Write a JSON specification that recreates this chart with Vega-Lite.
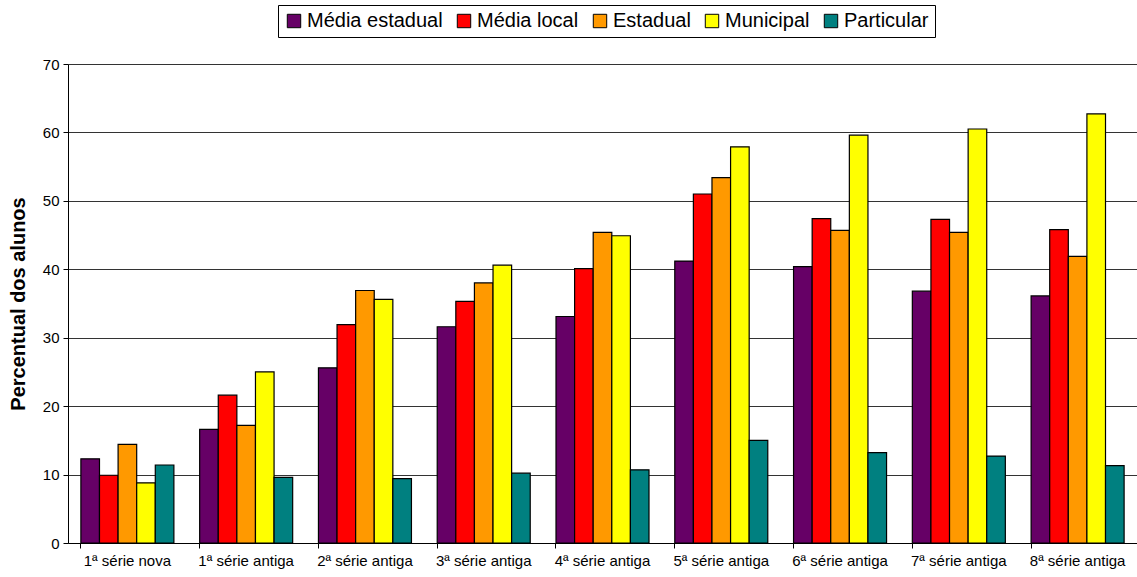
{
  "$schema": "https://vega.github.io/schema/vega-lite/v6.json",
  "width": 1069,
  "height": 479,
  "autosize": {"type": "none"},
  "padding": {"left": 68, "top": 64, "right": 0, "bottom": 34},
  "background": "white",
  "config": {
    "font": "Liberation Sans",
    "view": {"stroke": null}
  },
  "data": {
    "values": [
      {"serie": "1ª série nova", "grupo": "Média estadual", "valor": 12.3},
      {"serie": "1ª série nova", "grupo": "Média local", "valor": 9.9},
      {"serie": "1ª série nova", "grupo": "Estadual", "valor": 14.4},
      {"serie": "1ª série nova", "grupo": "Municipal", "valor": 8.8},
      {"serie": "1ª série nova", "grupo": "Particular", "valor": 11.4},
      {"serie": "1ª série antiga", "grupo": "Média estadual", "valor": 16.6},
      {"serie": "1ª série antiga", "grupo": "Média local", "valor": 21.6},
      {"serie": "1ª série antiga", "grupo": "Estadual", "valor": 17.2},
      {"serie": "1ª série antiga", "grupo": "Municipal", "valor": 25.0},
      {"serie": "1ª série antiga", "grupo": "Particular", "valor": 9.6},
      {"serie": "2ª série antiga", "grupo": "Média estadual", "valor": 25.6},
      {"serie": "2ª série antiga", "grupo": "Média local", "valor": 31.9},
      {"serie": "2ª série antiga", "grupo": "Estadual", "valor": 36.9},
      {"serie": "2ª série antiga", "grupo": "Municipal", "valor": 35.6},
      {"serie": "2ª série antiga", "grupo": "Particular", "valor": 9.4},
      {"serie": "3ª série antiga", "grupo": "Média estadual", "valor": 31.6},
      {"serie": "3ª série antiga", "grupo": "Média local", "valor": 35.3},
      {"serie": "3ª série antiga", "grupo": "Estadual", "valor": 38.0},
      {"serie": "3ª série antiga", "grupo": "Municipal", "valor": 40.6},
      {"serie": "3ª série antiga", "grupo": "Particular", "valor": 10.2},
      {"serie": "4ª série antiga", "grupo": "Média estadual", "valor": 33.1},
      {"serie": "4ª série antiga", "grupo": "Média local", "valor": 40.1},
      {"serie": "4ª série antiga", "grupo": "Estadual", "valor": 45.4},
      {"serie": "4ª série antiga", "grupo": "Municipal", "valor": 44.9},
      {"serie": "4ª série antiga", "grupo": "Particular", "valor": 10.7},
      {"serie": "5ª série antiga", "grupo": "Média estadual", "valor": 41.2},
      {"serie": "5ª série antiga", "grupo": "Média local", "valor": 51.0},
      {"serie": "5ª série antiga", "grupo": "Estadual", "valor": 53.4},
      {"serie": "5ª série antiga", "grupo": "Municipal", "valor": 57.9},
      {"serie": "5ª série antiga", "grupo": "Particular", "valor": 15.0},
      {"serie": "6ª série antiga", "grupo": "Média estadual", "valor": 40.4},
      {"serie": "6ª série antiga", "grupo": "Média local", "valor": 47.4},
      {"serie": "6ª série antiga", "grupo": "Estadual", "valor": 45.7},
      {"serie": "6ª série antiga", "grupo": "Municipal", "valor": 59.6},
      {"serie": "6ª série antiga", "grupo": "Particular", "valor": 13.2},
      {"serie": "7ª série antiga", "grupo": "Média estadual", "valor": 36.8},
      {"serie": "7ª série antiga", "grupo": "Média local", "valor": 47.3},
      {"serie": "7ª série antiga", "grupo": "Estadual", "valor": 45.4},
      {"serie": "7ª série antiga", "grupo": "Municipal", "valor": 60.5},
      {"serie": "7ª série antiga", "grupo": "Particular", "valor": 12.7},
      {"serie": "8ª série antiga", "grupo": "Média estadual", "valor": 36.1},
      {"serie": "8ª série antiga", "grupo": "Média local", "valor": 45.8},
      {"serie": "8ª série antiga", "grupo": "Estadual", "valor": 41.9},
      {"serie": "8ª série antiga", "grupo": "Municipal", "valor": 62.7},
      {"serie": "8ª série antiga", "grupo": "Particular", "valor": 11.3}
    ]
  },
  "mark": {"type": "bar", "stroke": "black", "strokeWidth": 1.2},
  "encoding": {
    "x": {
      "field": "serie",
      "type": "nominal",
      "sort": null,
      "scale": {"paddingInner": 0.217, "paddingOuter": 0.1085},
      "axis": {
        "title": null,
        "labelAngle": 0,
        "labelFontSize": 15,
        "labelColor": "black",
        "labelPadding": 5,
        "bandPosition": 0,
        "tickColor": "black",
        "tickSize": 5,
        "domainColor": "black",
        "grid": false
      }
    },
    "xOffset": {
      "field": "grupo",
      "type": "nominal",
      "sort": ["Média estadual", "Média local", "Estadual", "Municipal", "Particular"],
      "scale": {"paddingInner": 0, "paddingOuter": 0}
    },
    "y": {
      "field": "valor",
      "type": "quantitative",
      "scale": {"domain": [0, 70], "nice": false},
      "axis": {
        "title": "Percentual dos alunos",
        "titleFontSize": 20,
        "titleFontWeight": "bold",
        "titleColor": "black",
        "titlePadding": 14,
        "values": [0, 10, 20, 30, 40, 50, 60, 70],
        "labelFontSize": 15,
        "labelColor": "black",
        "labelPadding": 4,
        "tickColor": "black",
        "tickSize": 5,
        "domainColor": "black",
        "grid": true,
        "gridColor": "#333333",
        "gridWidth": 1
      }
    },
    "color": {
      "field": "grupo",
      "type": "nominal",
      "sort": ["Média estadual", "Média local", "Estadual", "Municipal", "Particular"],
      "scale": {
        "domain": ["Média estadual", "Média local", "Estadual", "Municipal", "Particular"],
        "range": ["#660066", "#FF0000", "#FF9900", "#FFFF00", "#008080"]
      },
      "legend": {
        "title": null,
        "orient": "none",
        "direction": "horizontal",
        "legendX": 210,
        "legendY": -59,
        "columns": 5,
        "labelFontSize": 20,
        "labelColor": "black",
        "labelOffset": 3,
        "symbolType": "square",
        "symbolSize": 180,
        "symbolStrokeColor": "black",
        "symbolStrokeWidth": 1,
        "symbolOpacity": 1,
        "columnPadding": 11,
        "strokeColor": "black",
        "padding": 6,
        "fillColor": "white"
      }
    }
  }
}
